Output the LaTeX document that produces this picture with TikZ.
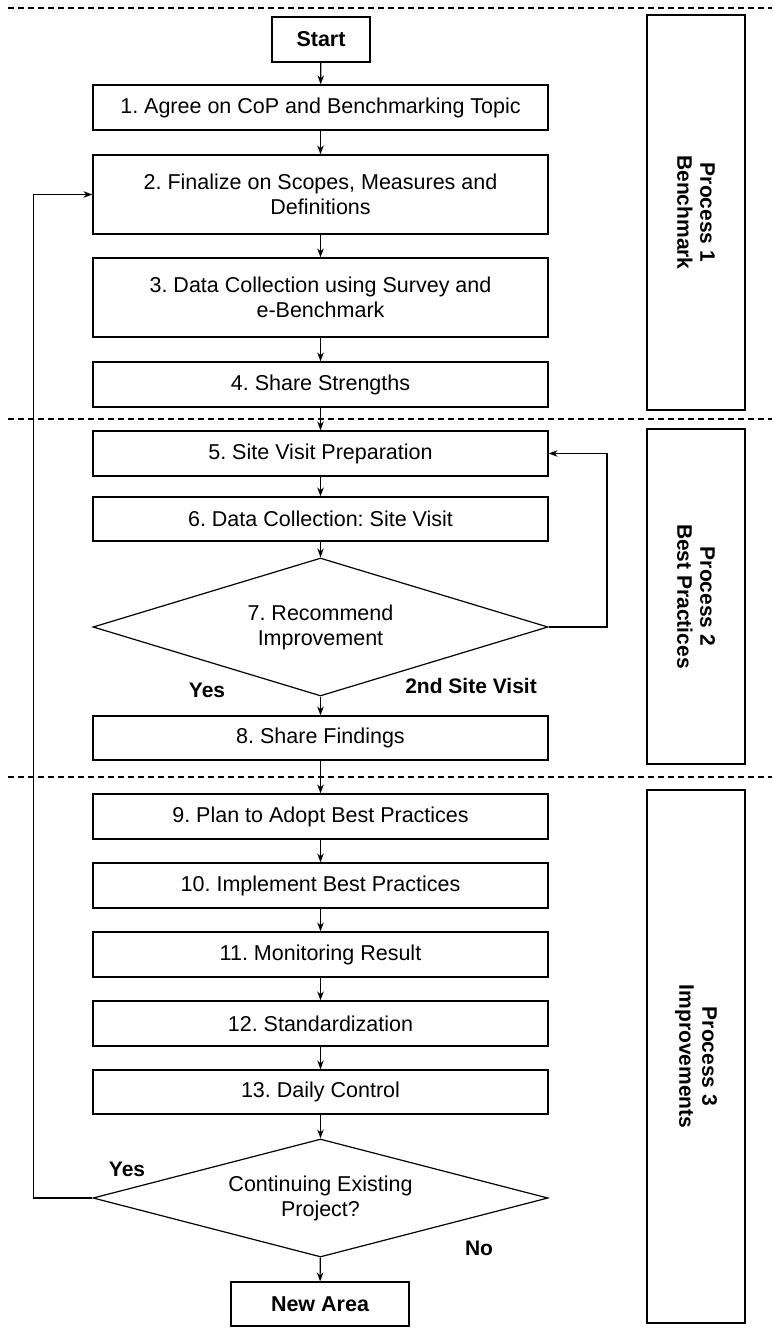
\documentclass[tikz,border=0pt]{standalone}
\usepackage{fontspec}
\setmainfont{Liberation Sans}
\usetikzlibrary{shapes.geometric,arrows.meta}
\frenchspacing
\begin{document}
\begin{tikzpicture}[x=1pt,y=-1pt,
  every node/.style={font=\fontsize{21.5}{25}\selectfont, inner sep=2pt},
  stepbox/.style={draw, line width=1.2pt, minimum width=455pt, minimum height=45pt, align=center},
  termbox/.style={draw, line width=1.2pt, minimum height=45pt, font=\fontsize{21.5}{25}\selectfont\bfseries},
  decision/.style={draw, line width=1.2pt, diamond, aspect=3.3, minimum width=455pt, align=center, inner sep=0pt},
  phasebox/.style={draw, line width=1.2pt, rotate=-90, minimum height=98pt, align=center,
    font=\fontsize{21}{23}\selectfont\bfseries},
  flow/.style={line width=1.2pt, -{Stealth[length=9pt,width=6.5pt]}},
  divider/.style={line width=2pt, dash pattern=on 6pt off 4pt},
  tag/.style={font=\fontsize{21}{25}\selectfont\bfseries}
]
\useasboundingbox (0,0) rectangle (772,1332);

% phase separators
\draw[divider] (8,8) -- (772,8);
\draw[divider] (8,419) -- (772,419);
\draw[divider] (8,777) -- (772,777);

% phase labels
\node[phasebox, minimum width=395pt] (p1) at (696,212.5) {Process 1\\Benchmark};
\node[phasebox, minimum width=335pt] (p2) at (696,596.5) {Process 2\\Best Practices};
\node[phasebox, minimum width=533pt] (p3) at (696,1056.5) {Process 3\\Improvements};

% main flow
\node[termbox, minimum width=98pt] (start) at (321,39.5) {Start};
\node[stepbox] (b1) at (320.5,107.5) {1. Agree on CoP and Benchmarking Topic};
\node[stepbox, minimum height=79pt] (b2) at (320.5,194.5) {2. Finalize on Scopes, Measures and\\Definitions};
\node[stepbox, minimum height=79pt] (b3) at (320.5,297.5) {3. Data Collection using Survey and\\e-Benchmark};
\node[stepbox] (b4) at (320.5,384.5) {4. Share Strengths};
\node[stepbox] (b5) at (320.5,453.5) {5. Site Visit Preparation};
\node[stepbox, minimum height=44pt] (b6) at (320.5,519) {6. Data Collection: Site Visit};
\node[decision, minimum height=138pt] (d7) at (320.5,627) {7. Recommend\\Improvement};
\node[stepbox, minimum height=44pt] (b8) at (320.5,738) {8. Share Findings};
\node[stepbox] (b9) at (320.5,816.5) {9. Plan to Adopt Best Practices};
\node[stepbox] (b10) at (320.5,885.5) {10. Implement Best Practices};
\node[stepbox] (b11) at (320.5,954.5) {11. Monitoring Result};
\node[stepbox] (b12) at (320.5,1023.5) {12. Standardization};
\node[stepbox, minimum height=44pt] (b13) at (320.5,1092) {13. Daily Control};
\node[decision, minimum height=118pt] (d14) at (320.5,1198) {Continuing Existing\\Project?};
\node[termbox, minimum width=178pt, minimum height=44pt] (new) at (320,1304) {New Area};

% branch labels
\node[tag] (yes1) at (207,690) {Yes};
\node[tag] (second) at (471,686) {2nd Site Visit};
\node[tag] (yes2) at (127,1169) {Yes};
\node[tag] (no) at (479,1248) {No};

% loop turning points
\coordinate (loopL) at (33.5,1198);
\coordinate (loopR) at (607,627);

% connectors
\draw[flow] (start) -- (b1);
\draw[flow] (b1) -- (b2);
\draw[flow] (b2) -- (b3);
\draw[flow] (b3) -- (b4);
\draw[flow] (b4) -- (b5);
\draw[flow] (b5) -- (b6);
\draw[flow] (b6) -- (d7);
\draw[flow] (d7) -- (b8);
\draw[flow] (b8) -- (b9);
\draw[flow] (b9) -- (b10);
\draw[flow] (b10) -- (b11);
\draw[flow] (b11) -- (b12);
\draw[flow] (b12) -- (b13);
\draw[flow] (b13) -- (d14);
\draw[flow] (d14) -- (new);
\draw[flow] (d7.east) -- (loopR) |- (b5.east);
\draw[flow] (d14.west) -- (loopL) |- (b2.west);
\end{tikzpicture}
\end{document}
